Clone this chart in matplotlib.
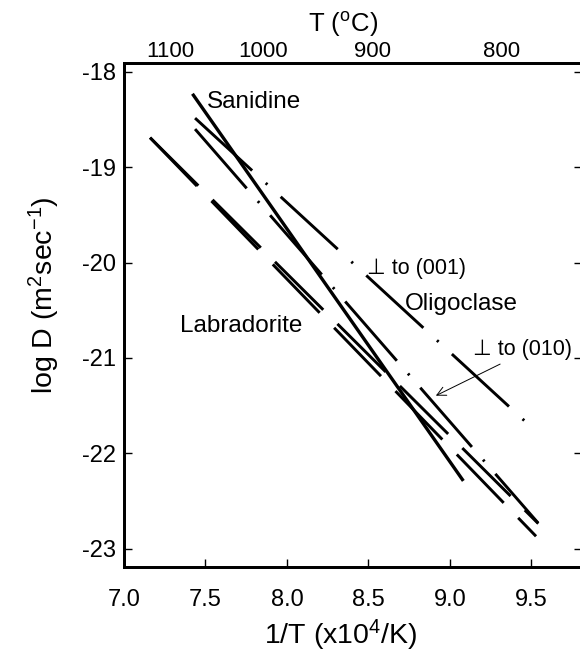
import matplotlib
matplotlib.use('Agg')
import matplotlib.pyplot as plt

# Arrhenius lines for Pb diffusion in feldspars (endpoints)
line_names = ['Sanidine', 'Oligoclase 001', 'Oligoclase 010', 'Labradorite a', 'Labradorite b']
x_start = [7.42, 7.436, 7.436, 7.16, 7.16]
y_start = [-18.23, -18.485, -18.60, -18.69, -18.69]
x_end = [9.082, 9.536, 9.54, 9.542, 9.528]
y_end = [-22.29, -21.783, -22.73, -22.738, -22.871]

x_ticks = [7.0, 7.5, 8.0, 8.5, 9.0, 9.5]
y_ticks = [-23, -22, -21, -20, -19, -18]
top_temps = [1100, 1000, 900, 800]

plt.rcParams['font.family'] = ['Liberation Sans', 'DejaVu Sans']
plt.rcParams['mathtext.fontset'] = 'custom'
plt.rcParams['mathtext.rm'] = 'Liberation Sans'
plt.rcParams['mathtext.it'] = 'Liberation Sans:italic'
plt.rcParams['axes.unicode_minus'] = False
plt.rcParams['lines.scale_dashes'] = False


def zobraz_graf():
    fig = plt.figure(figsize=(5.8, 6.53), dpi=100)
    ax = fig.add_axes([124 / 580, 86.3 / 653, 458 / 580, 503.4 / 653])

    # dash patterns in points
    styles = {
        'Sanidine': dict(lw=2.4),
        'Oligoclase 001': dict(lw=2.1, dashes=(55.8, 13.3, 1.6, 13.0)),
        'Oligoclase 010': dict(lw=2.1, dashes=(56.6, 12.2, 1.6, 11.9)),
        'Labradorite a': dict(lw=2.1, dashes=(49.0, 14.4)),
        'Labradorite b': dict(lw=2.1, dashes=(48.5, 15.0)),
    }
    for i, name in enumerate(line_names):
        ax.plot([x_start[i], x_end[i]], [y_start[i], y_end[i]], color='black',
                solid_capstyle='butt', dash_capstyle='butt', **styles[name])

    ax.text(7.507, -18.384, 'Sanidine', fontsize=17.5)
    ax.text(7.344, -20.733, 'Labradorite', fontsize=17.5)
    ax.text(8.724, -20.50, 'Oligoclase', fontsize=17.5)
    ax.text(8.489, -20.122, '\u22a5 to (001)', fontsize=15.5)
    ax.text(9.143, -20.972, '\u22a5 to (010)', fontsize=15.5)
    ax.annotate('', xy=(8.898, -21.409), xytext=(9.323, -21.052),
                arrowprops=dict(arrowstyle='->', lw=0.7, color='black', mutation_scale=16))

    ax.set_xlim(7.0, 9.81)
    ax.set_ylim(-23.19, -17.91)
    ax.set_xticks(x_ticks)
    ax.set_xticklabels(['%.1f' % v for v in x_ticks])
    ax.set_yticks(y_ticks)
    ax.tick_params(axis='x', direction='in', length=6, width=1, labelsize=17, pad=16)
    ax.tick_params(axis='y', direction='in', length=6, width=1, labelsize=17, pad=6,
                   right=True)
    for sp in ax.spines.values():
        sp.set_linewidth(2)

    ax.set_xlabel(r'1/T (x10$^{4}$/K)', fontsize=20.5)
    ax.xaxis.set_label_coords(0.472, -0.102)
    ax.set_ylabel(r'log D (m$^{2}$sec$^{-1}$)', fontsize=20.5)
    ax.yaxis.set_label_coords(-0.135, 0.54)

    # upper axis in degrees C
    top = ax.twiny()
    top.set_xlim(ax.get_xlim())
    top.set_xticks([1e4 / (t + 273.15) for t in top_temps])
    top.set_xticklabels([str(t) for t in top_temps])
    top.tick_params(axis='x', length=0, labelsize=16, pad=1)
    top.set_xlabel(r'T ($^{\mathrm{o}}$C)', fontsize=18.5)
    top.xaxis.set_label_coords(0.478, 1.062)
    for sp in top.spines.values():
        sp.set_linewidth(2)

    fig.savefig('out.png', dpi=100)


if __name__ == "__main__":
    zobraz_graf()
